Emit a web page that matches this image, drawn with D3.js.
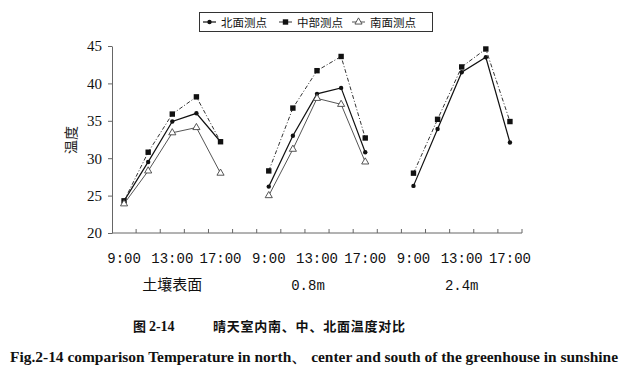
<!DOCTYPE html>
<html>
<head>
<meta charset="utf-8">
<script src="https://cdn.jsdelivr.net/npm/d3@7"></script>
<style>
  body { margin: 0; background: #fff; }
</style>
</head>
<body>
<div id="chart"></div>
<script>
/* greenhouse temperature, north / center / south */

const times = ["9:00", "11:00", "13:00", "15:00", "17:00"];
const groups = ["土壤表面", "0.8m", "2.4m"];
const yTicks = [20, 25, 30, 35, 40, 45];

// one array per group, 5 readings each
const north = [[24.3, 29.5, 34.9, 36.0, 32.2], [26.2, 33.0, 38.6, 39.4, 30.8], [26.3, 33.9, 41.5, 43.5, 32.1]];
const center = [[24.3, 30.8, 35.9, 38.2, 32.2], [28.3, 36.7, 41.7, 43.6, 32.7], [28.0, 35.2, 42.2, 44.6, 34.9]];
const south = [[23.9, 28.3, 33.4, 34.1, 28.0], [25.0, 31.2, 38.0, 37.2, 29.5], null];

const seriesNames = ["北面测点", "中部测点", "南面测点"];

const width = 633, height = 377,
    margin = ({top: 46, right: 111, bottom: 144, left: 112});

// category list: 5 times per group, one empty slot between groups
let cats = [];
groups.forEach((g, gi) => {
    if (gi > 0) cats.push("gap" + gi);
    times.forEach((t, ti) => cats.push(gi + "|" + ti));
});

let svg = d3.select("#chart")
    .append("svg")
    .attr("width", width)
    .attr("height", height)
    .style("font-family", "'Liberation Serif', serif");

let x = d3.scaleBand()
    .domain(cats)
    .range([margin.left, width - margin.right])
    .padding(0);

let y = d3.scaleLinear()
    .domain([20, 45])
    .range([height - margin.bottom, margin.top]);

const axisColor = "#666";

// y axis
const yAxis = g => g
    .attr("transform", `translate(${margin.left},0)`)
    .call(d3.axisLeft(y).tickValues(yTicks).tickSize(4).tickPadding(6).tickSizeOuter(0))
    .call(g => g.selectAll("path,line").attr("stroke", axisColor))
    .call(g => g.selectAll("text")
        .style("font-size", "15px")
        .style("font-family", "'Liberation Serif', serif")
        .attr("fill", "#111"));
svg.append("g").call(yAxis);

// x axis: line + ticks between categories
let xg = svg.append("g");
xg.append("line")
    .attr("x1", x.range()[0]).attr("x2", x.range()[1])
    .attr("y1", y(20)).attr("y2", y(20))
    .attr("stroke", axisColor);
xg.selectAll(".xtick")
    .data(cats)
    .join("line")
    .attr("class", "xtick")
    .attr("x1", d => x(d) + x.bandwidth())
    .attr("x2", d => x(d) + x.bandwidth())
    .attr("y1", y(20))
    .attr("y2", y(20) - 4)
    .attr("stroke", axisColor);

// time labels, every other one
xg.selectAll(".xlab")
    .data(cats.filter(c => c.includes("|") && (+c.split("|")[1]) % 2 === 0))
    .join("text")
    .attr("class", "xlab")
    .attr("x", d => x(d) + x.bandwidth() / 2)
    .attr("y", 263)
    .attr("text-anchor", "middle")
    .attr("font-family", "'Liberation Mono', monospace")
    .attr("font-size", 14)
    .attr("fill", "#111")
    .text(d => times[+d.split("|")[1]]);

// group labels (the middle one sits a little left in the original)
const groupShift = [0, -9, 0];
xg.selectAll(".glab")
    .data(groups)
    .join("text")
    .attr("class", "glab")
    .attr("x", (d, i) => x(i + "|2") + x.bandwidth() / 2 + groupShift[i])
    .attr("y", 290)
    .attr("text-anchor", "middle")
    .attr("font-family", (d, i) => i === 0 ? "'Noto Sans CJK SC', sans-serif" : "'Liberation Mono', monospace")
    .attr("font-size", (d, i) => i === 0 ? 15 : 14)
    .attr("fill", "#111")
    .text(d => d);

// y title
svg.append("text")
    .attr("transform", `translate(70,140) rotate(-90)`)
    .attr("text-anchor", "middle")
    .attr("dominant-baseline", "central")
    .attr("font-family", "'Noto Sans CJK SC', sans-serif")
    .attr("font-size", 14)
    .attr("fill", "#222")
    .text("温度");

// series
const series = [
    {name: seriesNames[0], data: north, stroke: "#111", width: 1.2, dash: null, marker: "dot"},
    {name: seriesNames[1], data: center, stroke: "#333", width: 1, dash: "4,2,1,2", marker: "square"},
    {name: seriesNames[2], data: south, stroke: "#555", width: 1, dash: null, marker: "tri"}
];

const line = d3.line()
    .x(d => x(d.cat) + x.bandwidth() / 2)
    .y(d => y(d.v));

function drawMarker(g, type, cx, cy) {
    if (type === "dot") {
        g.append("circle").attr("cx", cx).attr("cy", cy).attr("r", 2.2).attr("fill", "#111");
    } else if (type === "square") {
        g.append("rect").attr("x", cx - 2.7).attr("y", cy - 2.7).attr("width", 5.4).attr("height", 5.4).attr("fill", "#111");
    } else {
        g.append("path")
            .attr("d", d3.symbol(d3.symbolTriangle, 22)())
            .attr("transform", `translate(${cx},${cy})`)
            .attr("fill", "#fff").attr("stroke", "#444").attr("stroke-width", 0.9);
    }
}

series.forEach(s => {
    s.data.forEach((vals, gi) => {
        if (!vals) return;
        let pts = vals.map((v, ti) => ({cat: gi + "|" + ti, v: v}));
        svg.append("path")
            .datum(pts)
            .attr("fill", "none")
            .attr("stroke", s.stroke)
            .attr("stroke-width", s.width)
            .attr("stroke-dasharray", s.dash)
            .attr("d", line);
        let mg = svg.append("g");
        pts.forEach(p => drawMarker(mg, s.marker, x(p.cat) + x.bandwidth() / 2, y(p.v)));
    });
});

// legend
let leg = svg.append("g");
leg.append("rect")
    .attr("x", 199.5).attr("y", 12.5)
    .attr("width", 233).attr("height", 19)
    .attr("fill", "#fff").attr("stroke", "#333");
const legX = [203, 279, 352];
series.forEach((s, i) => {
    let lx = legX[i];
    leg.append("line")
        .attr("x1", lx).attr("x2", lx + 13)
        .attr("y1", 22).attr("y2", 22)
        .attr("stroke", s.stroke).attr("stroke-width", s.width)
        .attr("stroke-dasharray", s.dash);
    drawMarker(leg, s.marker, lx + 6.5, 22);
    leg.append("text")
        .attr("x", lx + 18).attr("y", 26.5)
        .attr("font-family", "'Noto Sans CJK SC', sans-serif")
        .attr("font-size", 11.5)
        .attr("fill", "#111")
        .text(s.name);
});

// captions
let cap = svg.append("text")
    .attr("x", 133).attr("y", 331)
    .attr("font-size", 13)
    .attr("font-weight", "bold")
    .attr("fill", "#111");
cap.append("tspan").attr("font-family", "'Noto Sans CJK SC', sans-serif").text("图 ");
cap.append("tspan").attr("font-family", "'Liberation Serif', serif").attr("font-size", 14).text("2-14");
cap.append("tspan").attr("x", 213).attr("font-family", "'Noto Sans CJK SC', sans-serif")
    .attr("textLength", 192).attr("lengthAdjust", "spacing")
    .text("晴天室内南、中、北面温度对比");

svg.append("text")
    .attr("x", 10).attr("y", 362)
    .attr("font-family", "'Liberation Serif', serif")
    .attr("font-size", 14.5)
    .attr("font-weight", "bold")
    .attr("fill", "#111")
    .attr("textLength", 608)
    .attr("lengthAdjust", "spacingAndGlyphs")
    .text("Fig.2-14 comparison Temperature in north、 center and south of the greenhouse in sunshine");
</script>
</body>
</html>
